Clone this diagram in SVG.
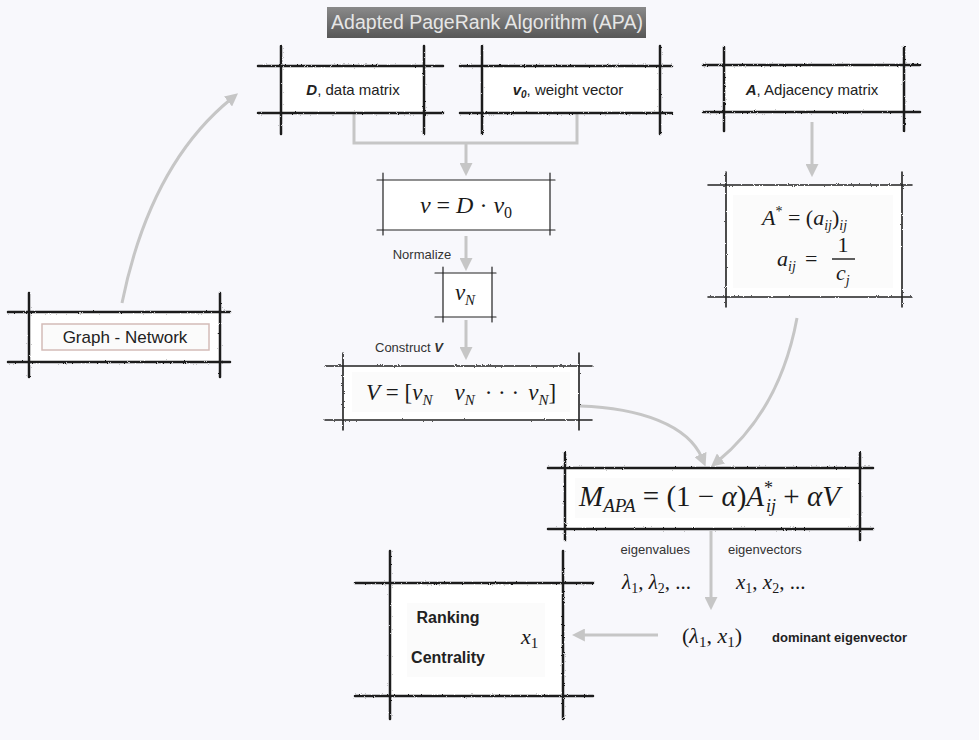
<svg xmlns="http://www.w3.org/2000/svg" width="979" height="740" viewBox="0 0 979 740">
<defs>
<style>
.sk{stroke:#1b1b1b;stroke-width:2.5;fill:none;stroke-linecap:round}
.sm{stroke:#222;stroke-width:1.6;fill:none;stroke-linecap:round}
.st{stroke:#222;stroke-width:1.2;fill:none;stroke-linecap:round}
.cn{stroke:#c6c6c6;stroke-width:3;fill:none}
.sans{font-family:"Liberation Sans",Arial,sans-serif;fill:#222}
.m{font-family:"Liberation Serif","DejaVu Serif",serif;fill:#1a1a1a}
.i{font-style:italic}
.lbl{font-family:"Liberation Sans",Arial,sans-serif;font-size:13px;fill:#333}
</style>
<marker id="ah" viewBox="0 0 10 10" markerWidth="13" markerHeight="13" markerUnits="userSpaceOnUse" refX="3" refY="5" orient="auto">
<path d="M0,0 L10,5 L0,10 z" fill="#c6c6c6"/>
</marker>
<linearGradient id="tg" x1="0" y1="0" x2="0" y2="1">
<stop offset="0" stop-color="#8a8a8a"/>
<stop offset="1" stop-color="#575757"/>
</linearGradient>
<filter id="rough" x="-5%" y="-5%" width="110%" height="110%">
<feTurbulence type="fractalNoise" baseFrequency="0.9" numOctaves="2" seed="3"/>
<feDisplacementMap in="SourceGraphic" scale="2.2" xChannelSelector="R" yChannelSelector="G"/>
</filter>
</defs>
<rect width="979" height="740" fill="#f8f8fc"/>

<g id="title">
<rect x="327" y="7" width="319" height="31" fill="url(#tg)"/>
<text x="487" y="29" text-anchor="middle" font-family="Liberation Sans,Arial,sans-serif" font-size="19.5" fill="#e6e6e6">Adapted PageRank Algorithm (APA)</text>
</g>

<g id="connectors">
<path class="cn" d="M354,113 V143 H577 V113"/>
<path class="cn" d="M466,143 V167" marker-end="url(#ah)"/>
<path class="cn" d="M466,236 V262" marker-end="url(#ah)"/>
<path class="cn" d="M466,320 V351" marker-end="url(#ah)"/>
<path class="cn" d="M812,122 V168" marker-end="url(#ah)"/>
<path class="cn" d="M580,406 C640,408 688,425 702,458" marker-end="url(#ah)"/>
<path class="cn" d="M797,318 Q780,410 718,461" marker-end="url(#ah)"/>
<path class="cn" d="M711,531 V601" marker-end="url(#ah)"/>
<path class="cn" d="M658,635 H581" marker-end="url(#ah)"/>
<path class="cn" d="M122,303 Q150,165 231,99" marker-end="url(#ah)"/>
</g>

<g id="node-graph">
<rect x="29" y="312" width="191" height="50" fill="#fff"/>
<rect x="42" y="324" width="167" height="26" fill="#fbfbfb" stroke="#d4bcb8" stroke-width="1.5"/>
<g filter="url(#rough)">
<path class="sk" d="M8,312 H230 M8,362 H230 M29,293 V377 M220,293 V377"/>
</g>
<text class="sans" x="125" y="343" text-anchor="middle" font-size="17">Graph - Network</text>
</g>

<g id="node-D">
<rect x="281" y="66" width="143" height="47" fill="#fff"/>
<g filter="url(#rough)">
<path class="sk" d="M258,66 H443 M258,113 H443 M281,46 V134 M424,46 V134"/>
</g>
<text class="sans" x="353" y="95" text-anchor="middle" font-size="15"><tspan font-weight="bold" font-style="italic">D</tspan>, data matrix</text>
</g>

<g id="node-v0">
<rect x="482" y="66" width="178" height="47" fill="#fff"/>
<g filter="url(#rough)">
<path class="sk" d="M460,66 H672 M460,113 H672 M482,46 V134 M660,46 V134"/>
</g>
<text class="sans" x="568" y="95" text-anchor="middle" font-size="15"><tspan font-weight="bold" font-style="italic">v</tspan><tspan font-weight="bold" font-style="italic" font-size="10" dy="3">0</tspan><tspan dy="-3">, weight vector</tspan></text>
</g>

<g id="node-A">
<rect x="724" y="65" width="180" height="47" fill="#fff"/>
<g filter="url(#rough)">
<path class="sk" d="M703,65 H920 M703,112 H920 M724,47 V131 M904,47 V131"/>
</g>
<text class="sans" x="812" y="95" text-anchor="middle" font-size="15"><tspan font-weight="bold" font-style="italic">A</tspan>, Adjacency matrix</text>
</g>

<g id="node-v">
<rect x="383" y="180" width="167" height="50" fill="#fff"/>
<path class="st" d="M377,180 H555 M377,230 H555 M383,173 V235 M550,173 V235"/>
<text class="m" x="466" y="213" text-anchor="middle" font-size="24"><tspan class="i">v</tspan> = <tspan class="i">D</tspan> · <tspan class="i">v</tspan><tspan font-size="16" dy="5">0</tspan></text>
</g>
<text class="lbl" x="422" y="259" text-anchor="middle">Normalize</text>

<g id="node-vN">
<rect x="443" y="273" width="49" height="44" fill="#fff"/>
<path class="st" d="M435,273 H496 M435,317 H496 M443,267 V322 M492,267 V322"/>
<text class="m" x="465" y="300" text-anchor="middle" font-size="23"><tspan class="i">v</tspan><tspan class="i" font-size="15" dy="5">N</tspan></text>
</g>
<text class="lbl" x="375" y="352">Construct <tspan font-weight="bold" font-style="italic">V</tspan></text>

<g id="node-V">
<rect x="343" y="366" width="236" height="54" fill="#fff"/>
<rect x="352" y="372" width="218" height="40" fill="#fbfbfb"/>
<g filter="url(#rough)">
<path class="sm" d="M325,366 H592 M325,420 H592 M343,353 V430 M579,353 V430"/>
</g>
<text class="m" x="366" y="400" font-size="23"><tspan class="i">V</tspan> = [<tspan class="i">v</tspan><tspan class="i" font-size="15" dy="5">N</tspan><tspan class="i" dx="22" dy="-5">v</tspan><tspan class="i" font-size="15" dy="5">N</tspan><tspan dx="10" dy="-5">· · ·</tspan><tspan class="i" dx="9">v</tspan><tspan class="i" font-size="15" dy="5">N</tspan><tspan dy="-5">]</tspan></text>
</g>

<g id="node-Astar">
<rect x="726" y="185" width="176" height="112" fill="#fff"/>
<rect x="733" y="195" width="160" height="93" fill="#fbfbfb"/>
<g filter="url(#rough)">
<path class="sm" d="M708,185 H912 M708,297 H912 M726,172 V307 M902,172 V307"/>
</g>
<text class="m" x="762" y="225" font-size="22"><tspan class="i">A</tspan><tspan font-size="14" dy="-9">*</tspan><tspan dy="9"> = (</tspan><tspan class="i">a</tspan><tspan class="i" font-size="14" dy="5">ij</tspan><tspan dy="-5">)</tspan><tspan class="i" font-size="14" dy="5">ij</tspan></text>
<text class="m" x="777" y="266" font-size="22"><tspan class="i">a</tspan><tspan class="i" font-size="14" dy="5">ij</tspan></text>
<text class="m" x="805" y="266" font-size="22">=</text>
<text class="m" x="843" y="252" text-anchor="middle" font-size="22">1</text>
<line x1="832" y1="259" x2="855" y2="259" stroke="#1a1a1a" stroke-width="1.4"/>
<text class="m" x="836" y="280" font-size="22"><tspan class="i">c</tspan><tspan class="i" font-size="14" dy="5">j</tspan></text>
</g>

<g id="node-M">
<rect x="565" y="468" width="295" height="61" fill="#fff"/>
<rect x="575" y="478" width="275" height="40" fill="#fbfbfb"/>
<g filter="url(#rough)">
<path class="sk" d="M548,468 H873 M548,529 H873 M565,453 V540 M860,453 V540"/>
</g>
<text class="m" x="579" y="506" font-size="29"><tspan class="i">M</tspan><tspan class="i" font-size="19" dy="6">APA</tspan><tspan dy="-6"> = (1 − </tspan><tspan class="i">α</tspan>)<tspan class="i">A</tspan><tspan font-size="18" dy="-12">*</tspan><tspan class="i" font-size="18" dx="-7" dy="18">ij</tspan><tspan dy="-6"> + </tspan><tspan class="i">αV</tspan></text>
</g>

<g id="labels-eigen">
<text class="lbl" x="690" y="554" text-anchor="end">eigenvalues</text>
<text class="lbl" x="728" y="554">eigenvectors</text>
<text class="m" x="691" y="589" text-anchor="end" font-size="21"><tspan class="i">λ</tspan><tspan font-size="14" dy="4">1</tspan><tspan dy="-4">, </tspan><tspan class="i">λ</tspan><tspan font-size="14" dy="4">2</tspan><tspan dy="-4">, ...</tspan></text>
<text class="m" x="736" y="589" font-size="21"><tspan class="i">x</tspan><tspan font-size="14" dy="4">1</tspan><tspan dy="-4">, </tspan><tspan class="i">x</tspan><tspan font-size="14" dy="4">2</tspan><tspan dy="-4">, ...</tspan></text>
</g>

<g id="node-dominant">
<text class="m" x="712" y="643" text-anchor="middle" font-size="22">(<tspan class="i">λ</tspan><tspan font-size="15" dy="4">1</tspan><tspan dy="-4">, </tspan><tspan class="i">x</tspan><tspan font-size="15" dy="4">1</tspan><tspan dy="-4">)</tspan></text>
<text class="sans" x="772" y="642" font-size="13" font-weight="bold">dominant eigenvector</text>
</g>

<g id="node-ranking">
<rect x="390" y="583" width="173" height="113" fill="#fff"/>
<rect x="407" y="603" width="138" height="74" fill="#fbfbfb"/>
<g filter="url(#rough)">
<path class="sk" d="M355,583 H593 M355,696 H593 M390,551 V719 M563,551 V719"/>
</g>
<text class="sans" x="448" y="623" text-anchor="middle" font-size="16" font-weight="bold">Ranking</text>
<text class="sans" x="448" y="663" text-anchor="middle" font-size="16" font-weight="bold">Centrality</text>
<text class="m" x="521" y="644" font-size="22"><tspan class="i">x</tspan><tspan font-size="15" dy="4">1</tspan></text>
</g>
</svg>
